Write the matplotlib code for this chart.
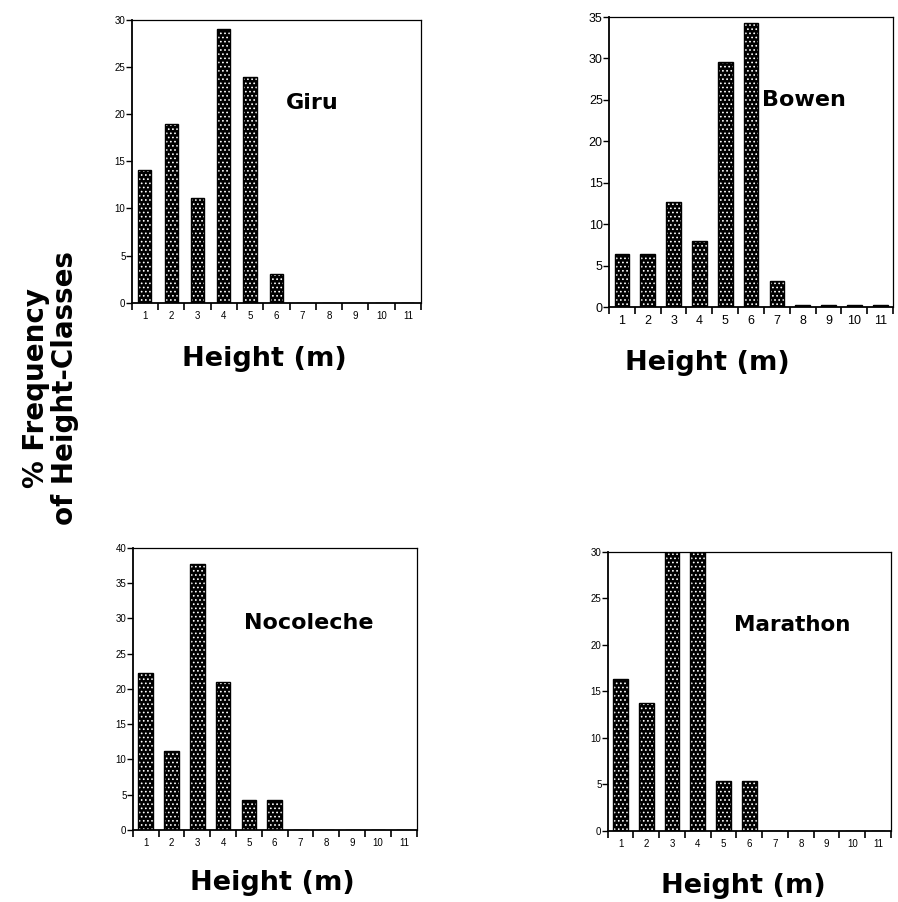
import matplotlib
matplotlib.use("Agg")
import matplotlib.pyplot as plt
import numpy as np

heights = [1, 2, 3, 4, 5, 6, 7, 8, 9, 10, 11]
tick_labels = ["1", "2", "3", "4", "5", "6", "7", "8", "9", "10", "11"]

giru = [14.1, 19.0, 11.1, 29.0, 24.0, 3.0, 0, 0, 0, 0, 0]
bowen = [6.4, 6.4, 12.7, 8.0, 29.6, 34.3, 3.2, 0.2, 0.2, 0.2, 0.2]
nocoleche = [22.3, 11.2, 37.7, 21.0, 4.2, 4.2, 0, 0, 0, 0, 0]
marathon = [16.3, 13.7, 30.0, 30.0, 5.4, 5.4, 0, 0, 0, 0, 0]

site_names = ["Giru", "Bowen", "Nocoleche", "Marathon"]
y_max = [30, 35, 40, 30]

plt.rcParams['hatch.color'] = 'white'
plt.rcParams['hatch.linewidth'] = 0.7

fig = plt.figure(figsize=(8.98, 9.02), dpi=100)

# left, bottom, width, height (figure fraction)
positions = [
    [0.1467, 0.6644, 0.3221, 0.3134],
    [0.6782, 0.6596, 0.3163, 0.3215],
    [0.1478, 0.0798, 0.3163, 0.3130],
    [0.6767, 0.0790, 0.3155, 0.3093],
]
label_pos = [(0.623, 0.706), (0.687, 0.714), (0.621, 0.733), (0.651, 0.737)]
label_size = [16, 16, 16, 15.5]
xlabel_pos = [(0.458, -0.225), (0.345, -0.217), (0.49, -0.2125), (0.478, -0.223)]
tick_size = [7, 9, 7, 7]
bar_w = [0.5, 0.57, 0.57, 0.57]

series = [giru, bowen, nocoleche, marathon]

for i in range(4):
    ax = fig.add_axes(positions[i])
    vals = series[i]
    ax.bar(heights, vals, width=bar_w[i], color='black', hatch='....', linewidth=0)
    ax.bar(heights, vals, width=bar_w[i], fill=False, edgecolor='black', linewidth=1.0)
    ax.set_xlim(0.5, 11.5)
    ax.set_ylim(0, y_max[i])
    ax.set_yticks(np.arange(0, y_max[i] + 1, 5))
    ax.set_xticks(np.arange(0.5, 12, 1.0))
    ax.set_xticklabels([])
    ax.set_xticks(heights, minor=True)
    ax.set_xticklabels(tick_labels, minor=True)
    ax.tick_params(axis='x', which='major', direction='out', length=5, width=1.2)
    ax.tick_params(axis='x', which='minor', length=0, pad=6, labelsize=tick_size[i])
    ax.tick_params(axis='y', direction='out', length=4, width=1.0, pad=0.5,
                   labelsize=tick_size[i])
    for lab in ax.get_xticklabels(minor=True) + ax.get_yticklabels():
        lab.set_family('Liberation Sans')
    for s in ['left', 'bottom']:
        ax.spines[s].set_linewidth(1.3)
    for s in ['top', 'right']:
        ax.spines[s].set_linewidth(0.9)
    ax.text(label_pos[i][0], label_pos[i][1], site_names[i], transform=ax.transAxes,
            ha='center', va='center', fontsize=label_size[i], fontweight='bold',
            family='DejaVu Sans')
    ax.set_xlabel("Height (m)", fontsize=19.5, fontweight='bold', family='DejaVu Sans',
                  va='baseline')
    ax.xaxis.set_label_coords(xlabel_pos[i][0], xlabel_pos[i][1])

fig.text(0.056, 1 - 388 / 902, "% Frequency\nof Height-Classes", rotation=90,
         ha='center', va='center', multialignment='center', fontsize=20,
         fontweight='bold', family='DejaVu Sans', linespacing=1.05)

fig.savefig("out.png", dpi=100)
